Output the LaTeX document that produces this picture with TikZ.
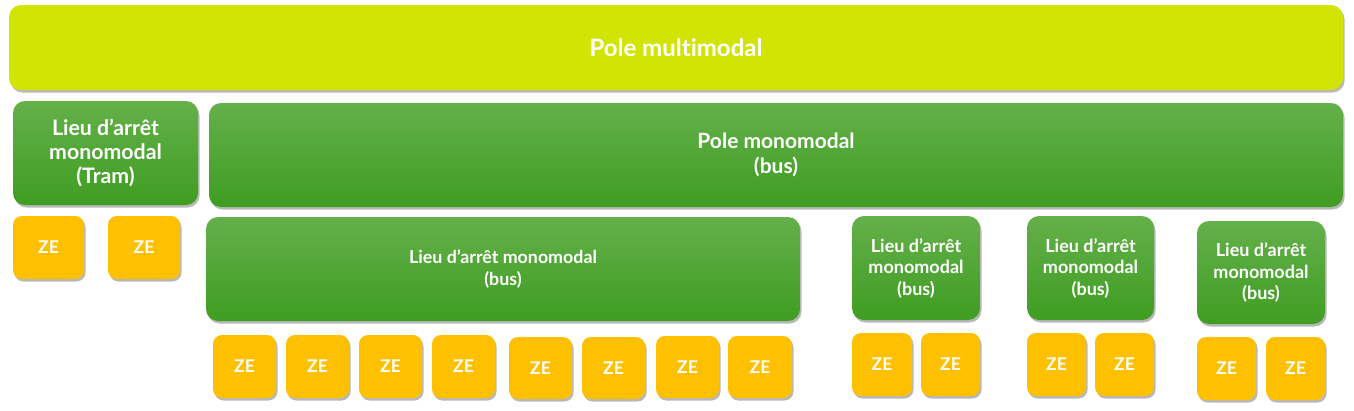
\documentclass[tikz,border=0pt]{standalone}
\usepackage{fontspec}
\setmainfont{Lato}[Ligatures=NoCommon]
\usetikzlibrary{shadows}
\definecolor{lime}{HTML}{D2E404}
\definecolor{gtop}{HTML}{64B04A}
\definecolor{gbot}{HTML}{3F9D22}
\definecolor{gold}{HTML}{FFC000}
\newcommand{\bx}[7]{% style, name, x1, y1, x2, y2, text
  \node[#1, minimum width={(#5-#3)*1pt}, minimum height={(#6-#4)*1pt}] (#2) at ({(#3+#5)/2},{(#4+#6)/2}) {#7};}
\begin{document}
\begin{tikzpicture}[x=1pt,y=-1pt,
  basebox/.style={rounded corners=12pt, inner sep=0pt, align=center, text=white,
    drop shadow={shadow xshift=1.5pt, shadow yshift=-2.5pt, opacity=0.28, fill=black}},
  limebox/.style={basebox, fill=lime, font=\bfseries\fontsize{24}{28}\selectfont},
  greenbox/.style={basebox, top color=gtop, bottom color=gbot},
  zebox/.style={basebox, rounded corners=9pt, fill=gold, font=\bfseries\fontsize{17.5}{20}\selectfont},
  bigfont/.style={font=\bfseries\fontsize{21}{25}\selectfont},
  midfont/.style={font=\bfseries\fontsize{21.3}{24}\selectfont},
  smallfont/.style={font=\bfseries\fontsize{18}{21.5}\selectfont},
  busfont/.style={font=\bfseries\fontsize{17.8}{22}\selectfont}]
\useasboundingbox[fill=white] (0,0) rectangle (1354,410);
\bx{limebox}{multi}{9}{5}{1343}{90}{Pole multimodal}
\bx{greenbox,midfont}{tram}{13}{101}{198}{205}{Lieu d’arrêt\\monomodal\\(Tram)}
\bx{greenbox,bigfont}{monobus}{209}{103}{1343}{207}{Pole monomodal\\(bus)}
\bx{zebox}{zt1}{13}{216}{84}{279}{ZE}
\bx{zebox}{zt2}{108}{216}{180}{279}{ZE}
\bx{greenbox,busfont}{lb0}{206}{217}{800}{321}{Lieu d’arrêt monomodal\\(bus)}
\bx{zebox}{z1}{213}{335}{276}{398}{ZE}
\bx{zebox}{z2}{286}{335}{349}{398}{ZE}
\bx{zebox}{z3}{359}{335}{422}{398}{ZE}
\bx{zebox}{z4}{432}{335}{495}{398}{ZE}
\bx{zebox}{z5}{509}{337}{572}{399}{ZE}
\bx{zebox}{z6}{582}{337}{645}{399}{ZE}
\bx{zebox}{z7}{656}{336}{719}{398}{ZE}
\bx{zebox}{z8}{728}{336}{792}{398}{ZE}
\bx{greenbox,smallfont}{lb1}{852}{216}{980}{320}{Lieu d’arrêt\\monomodal\\(bus)}
\bx{greenbox,smallfont}{lb2}{1027}{216}{1154}{320}{Lieu d’arrêt\\monomodal\\(bus)}
\bx{greenbox,smallfont}{lb3}{1197}{221}{1325}{324}{Lieu d’arrêt\\monomodal\\(bus)}
\bx{zebox}{z9}{852}{333}{912}{396}{ZE}
\bx{zebox}{z10}{921}{333}{980}{396}{ZE}
\bx{zebox}{z11}{1027}{333}{1086}{396}{ZE}
\bx{zebox}{z12}{1095}{333}{1154}{396}{ZE}
\bx{zebox}{z13}{1197}{337}{1256}{400}{ZE}
\bx{zebox}{z14}{1266}{337}{1325}{400}{ZE}
\end{tikzpicture}
\end{document}
